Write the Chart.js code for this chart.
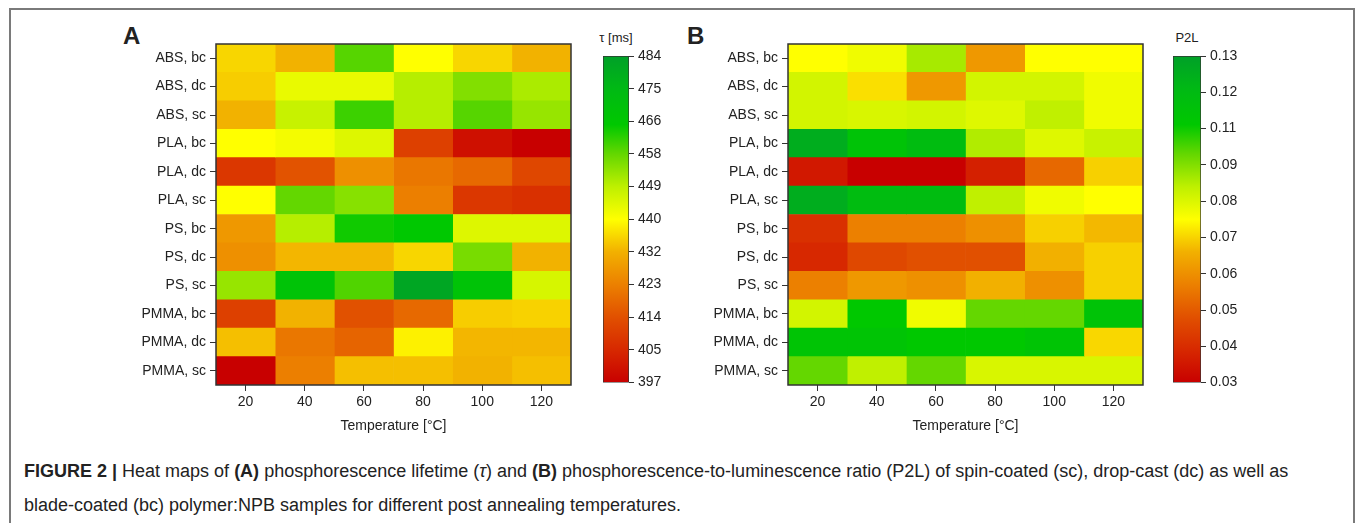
<!DOCTYPE html>
<html>
<head>
<meta charset="utf-8">
<script src="https://cdn.jsdelivr.net/npm/chart.js@4.4.1/dist/chart.umd.min.js"></script>
<style>
  html, body { margin: 0; padding: 0; background: #fff; }
  body { width: 1355px; height: 523px; position: relative; overflow: hidden; font-family: 'Liberation Sans', Arial, sans-serif; color: #222; }
  .frame { position: absolute; left: 9px; top: 8px; width: 1346px; height: 540px; border: 2px solid #7a7a7a; border-bottom: none; box-sizing: border-box; }
  canvas { position: absolute; }
  .panel { position: absolute; font-weight: bold; font-size: 24px; line-height: 24px; }
  .cbtitle { position: absolute; font-size: 13px; line-height: 14px; width: 60px; text-align: center; }
  .caption { position: absolute; left: 24px; top: 454px; width: 1320px; font-size: 18px; line-height: 34px; white-space: nowrap; }
</style>
</head>
<body>
<div class="frame"></div>

<div class="panel" style="left:123px; top:24px;">A</div>
<div class="panel" style="left:687px; top:24px;">B</div>
<div class="cbtitle" style="left:586px; top:31px;">τ [ms]</div>
<div class="cbtitle" style="left:1157px; top:31px;">P2L</div>

<canvas id="heatA" width="470" height="405" style="left:110px; top:30px;"></canvas>
<canvas id="barA" width="80" height="355" style="left:595px; top:40px;"></canvas>
<canvas id="heatB" width="470" height="405" style="left:680px; top:30px;"></canvas>
<canvas id="barB" width="90" height="355" style="left:1165px; top:40px;"></canvas>

<div class="caption"><b>FIGURE 2 |</b> Heat maps of <b>(A)</b> phosphorescence lifetime (<i>τ</i>) and <b>(B)</b> phosphorescence-to-luminescence ratio (P2L) of spin-coated (sc), drop-cast (dc) as well as<br>blade-coated (bc) polymer:NPB samples for different post annealing temperatures.</div>

<script>
// الفئات ودرجات الحرارة
const samples = ['ABS, bc', 'ABS, dc', 'ABS, sc', 'PLA, bc', 'PLA, dc', 'PLA, sc',
                 'PS, bc', 'PS, dc', 'PS, sc', 'PMMA, bc', 'PMMA, dc', 'PMMA, sc'];
const temps = [20, 40, 60, 80, 100, 120];

// lifetime tau [ms], one row per sample, columns = temps
const tauRows = [
    [436, 432, 459, 440.5, 436, 432],
    [435, 443.5, 443.5, 450, 455, 451],
    [432, 448, 461, 450, 459, 453],
    [440.5, 442, 445, 411, 400.5, 397],
    [409, 415, 426, 421.5, 419, 412.5],
    [440.5, 458, 454.5, 423, 409, 407.5],
    [427.5, 450, 464.5, 466, 445, 445],
    [426, 432.5, 432.5, 436, 456, 432],
    [453, 469, 459.5, 482, 469, 446],
    [411, 432, 414.5, 419, 435, 435.5],
    [433.5, 421.5, 418, 439, 432.5, 432.5],
    [397, 423, 433.5, 433.5, 432, 433.5]
];

// P2L ratio, one row per sample
const p2lRows = [
    [0.080, 0.0823, 0.0925, 0.065, 0.080, 0.080],
    [0.087, 0.076, 0.065, 0.087, 0.087, 0.0823],
    [0.087, 0.086, 0.087, 0.085, 0.0897, 0.0823],
    [0.125, 0.113, 0.118, 0.0915, 0.085, 0.0885],
    [0.036, 0.030, 0.030, 0.038, 0.055, 0.074],
    [0.125, 0.118, 0.118, 0.0897, 0.0823, 0.080],
    [0.042, 0.060, 0.060, 0.0633, 0.074, 0.071],
    [0.040, 0.048, 0.050, 0.050, 0.070, 0.074],
    [0.060, 0.065, 0.0633, 0.070, 0.0633, 0.074],
    [0.087, 0.109, 0.0823, 0.100, 0.100, 0.113],
    [0.112, 0.112, 0.109, 0.109, 0.112, 0.075],
    [0.100, 0.0897, 0.100, 0.086, 0.086, 0.086]
];

// colour bar ranges and tick labels (bottom to top)
const tauRange = [397, 484];
const tauTickLabels = ['397', '405', '414', '423', '432', '440', '449', '458', '466', '475', '484'];
const p2lRange = [0.03, 0.13];
const p2lTickLabels = ['0.03', '0.04', '0.05', '0.06', '0.07', '0.08', '0.09', '0.11', '0.12', '0.13'];

// red - yellow - green colour map
const cmap = [
    [0.00, [200, 0, 0]],
    [0.10, [215, 40, 0]],
    [0.20, [225, 80, 0]],
    [0.30, [236, 128, 0]],
    [0.40, [242, 176, 0]],
    [0.50, [255, 255, 0]],
    [0.60, [190, 240, 0]],
    [0.70, [100, 215, 0]],
    [0.79, [0, 200, 0]],
    [0.90, [0, 185, 20]],
    [1.00, [0, 160, 40]]
];

function cmapColor(f) {
    f = Math.max(0, Math.min(1, f));
    for (let i = 1; i < cmap.length; i++) {
        if (f <= cmap[i][0]) {
            const [f0, c0] = cmap[i - 1];
            const [f1, c1] = cmap[i];
            const t = (f - f0) / (f1 - f0);
            const c = c0.map((v, k) => Math.round(v + (c1[k] - v) * t));
            return 'rgb(' + c.join(',') + ')';
        }
    }
    return 'rgb(' + cmap[cmap.length - 1][1].join(',') + ')';
}

const font = { family: "'Liberation Sans', Arial, sans-serif", size: 14 };
const textColor = '#222';

// إطار حول منطقة الرسم
const framePlugin = {
    id: 'frame',
    afterDatasetsDraw(chart) {
        const { ctx, chartArea: a } = chart;
        ctx.save();
        ctx.strokeStyle = '#333';
        ctx.lineWidth = 1.5;
        ctx.strokeRect(a.left, a.top, a.right - a.left, a.bottom - a.top);
        ctx.restore();
    }
};

function makeHeatmap(id, rows, range, yWidth, padRight) {
    const half = (temps[1] - temps[0]) / 2;
    const datasets = temps.map((t, j) => ({
        data: samples.map(() => [t - half, t + half]),
        backgroundColor: rows.map(r => cmapColor((r[j] - range[0]) / (range[1] - range[0]))),
        borderWidth: 0,
        barPercentage: 1,
        categoryPercentage: 1,
        grouped: false
    }));

    new Chart(document.getElementById(id), {
        type: 'bar',
        data: { labels: samples, datasets: datasets },
        options: {
            indexAxis: 'y',
            responsive: false,
            animation: false,
            layout: { padding: { top: 14, right: padRight, left: 0, bottom: 0 } },
            plugins: { legend: { display: false }, tooltip: { enabled: false } },
            scales: {
                x: {
                    type: 'linear',
                    position: 'bottom',
                    min: temps[0] - half,
                    max: temps[temps.length - 1] + half,
                    afterBuildTicks: scale => { scale.ticks = temps.map(v => ({ value: v })); },
                    afterFit: scale => { scale.height = 50; },
                    grid: { drawOnChartArea: false, tickLength: 6, color: '#333' },
                    border: { display: false },
                    ticks: { font: font, color: textColor, padding: 3, maxRotation: 0 },
                    title: { display: true, text: 'Temperature [°C]', font: font, color: textColor, padding: { top: 0, bottom: 0 } }
                },
                y: {
                    type: 'category',
                    position: 'left',
                    offset: true,
                    afterFit: scale => { scale.width = yWidth; },
                    grid: { drawOnChartArea: false, offset: false, tickLength: 6, color: '#333' },
                    border: { display: false },
                    ticks: { font: font, color: textColor, padding: 4, autoSkip: false }
                }
            }
        },
        plugins: [framePlugin]
    });
}

function makeColorbar(id, range, labels, yWidth) {
    const n = labels.length;
    new Chart(document.getElementById(id), {
        type: 'bar',
        data: {
            labels: [''],
            datasets: [{
                data: [[range[0], range[1]]],
                backgroundColor: ctx => {
                    const area = ctx.chart.chartArea;
                    if (!area) return null;
                    const g = ctx.chart.ctx.createLinearGradient(0, area.bottom, 0, area.top);
                    cmap.forEach(s => g.addColorStop(s[0], 'rgb(' + s[1].join(',') + ')'));
                    return g;
                },
                borderColor: '#333',
                borderWidth: 1,
                borderSkipped: false,
                barPercentage: 1,
                categoryPercentage: 1
            }]
        },
        options: {
            responsive: false,
            animation: false,
            layout: { padding: { top: 16, right: 0, left: 8, bottom: 10 } },
            plugins: { legend: { display: false }, tooltip: { enabled: false } },
            scales: {
                x: { display: false },
                y: {
                    type: 'linear',
                    position: 'right',
                    min: range[0],
                    max: range[1],
                    afterBuildTicks: scale => {
                        scale.ticks = labels.map((_, i) => ({ value: range[0] + i * (range[1] - range[0]) / (n - 1) }));
                    },
                    afterFit: scale => { scale.width = yWidth; },
                    grid: { drawOnChartArea: false, tickLength: 5, color: '#333' },
                    border: { display: false },
                    ticks: {
                        font: font, color: textColor, padding: 4, autoSkip: false,
                        callback: (v, i) => labels[i]
                    }
                }
            }
        }
    });
}

document.addEventListener('DOMContentLoaded', function() {
    makeHeatmap('heatA', tauRows, tauRange, 106, 9);
    makeHeatmap('heatB', p2lRows, p2lRange, 108, 7);
    makeColorbar('barA', tauRange, tauTickLabels, 46);
    makeColorbar('barB', p2lRange, p2lTickLabels, 54);
});
</script>
</body>
</html>
